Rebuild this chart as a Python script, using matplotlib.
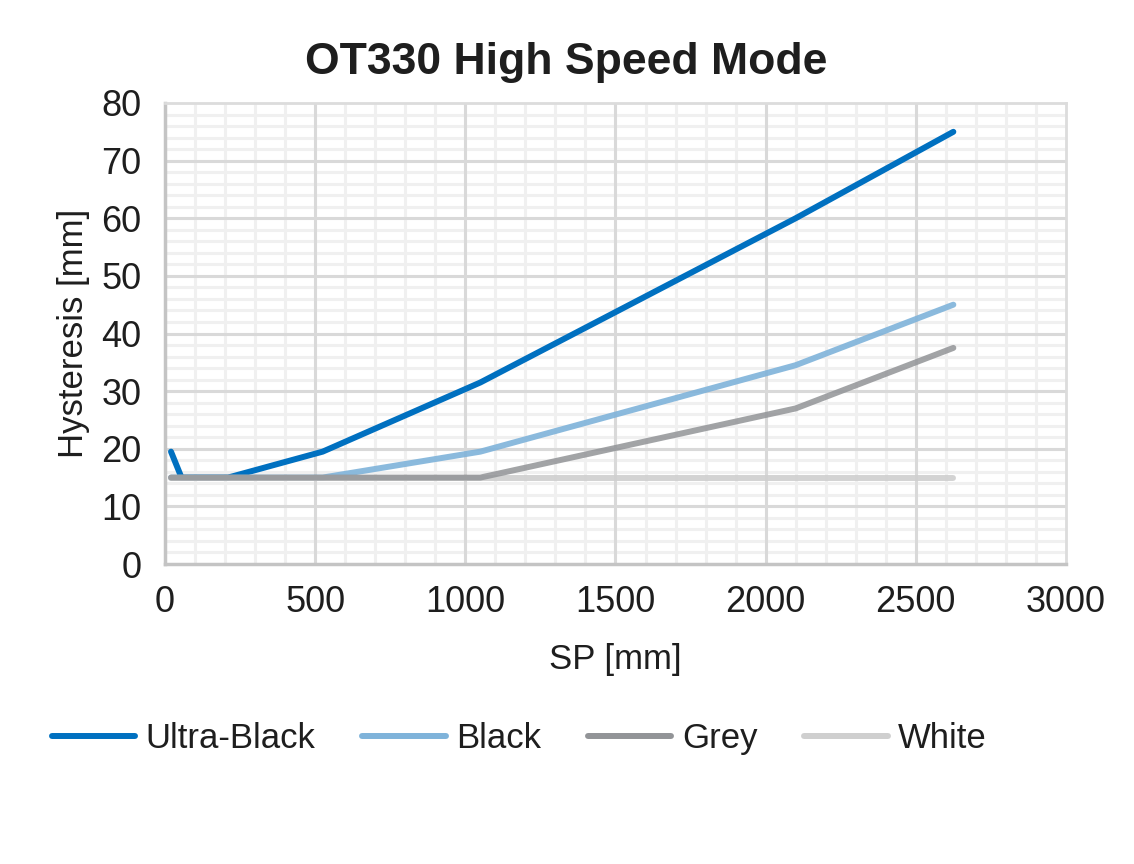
import matplotlib
matplotlib.use("Agg")
import matplotlib.pyplot as plt
from matplotlib.ticker import MultipleLocator

plt.rcParams['font.family'] = ['Liberation Sans', 'DejaVu Sans']

sp = [20, 55, 210, 525, 1050, 2100, 2625]
ultra_black = [19.5, 15, 15, 19.5, 31.5, 60, 75]
black = [15, 15, 15, 15, 19.5, 34.5, 45]
grey = [15, 15, 15, 15, 15, 27, 37.5]
white = [15, 15, 15, 15, 15, 15, 15]
series_names = ["Ultra-Black", "Black", "Grey", "White"]
x_ticks = [0, 500, 1000, 1500, 2000, 2500, 3000]
y_ticks = [0, 10, 20, 30, 40, 50, 60, 70, 80]

fig = plt.figure(figsize=(11.34, 8.64), dpi=100)
ax = fig.add_axes([0.1455, 0.3472, 0.7945, 0.5336])

lw = 4.3
l_ub, = ax.plot(sp, ultra_black, color="#0070c0", lw=lw, solid_capstyle="round", zorder=3, label=series_names[0])
l_b, = ax.plot(sp, black, color="#7fb3da", lw=lw, alpha=0.9, solid_capstyle="round", zorder=4, label=series_names[1])
l_w, = ax.plot(sp, white, color="#cfcfcf", lw=lw, alpha=0.9, solid_capstyle="round", zorder=5, label=series_names[3])
l_g, = ax.plot(sp, grey, color="#929497", lw=lw, alpha=0.85, solid_capstyle="round", zorder=6, label=series_names[2])

ax.set_xlim(0, 3000)
ax.set_ylim(0, 80)
ax.set_xticks(x_ticks)
ax.set_yticks(y_ticks)
ax.xaxis.set_minor_locator(MultipleLocator(100))
ax.yaxis.set_minor_locator(MultipleLocator(2))
ax.grid(which="minor", color="#f0f0f0", lw=2.2)
ax.set_axisbelow(True)
# major grid drawn above the minor grid
for xv in x_ticks[1:-1]:
    ax.axvline(xv, color="#d9d9d9", lw=2.2, zorder=1)
for yv in y_ticks[1:-1]:
    ax.axhline(yv, color="#d9d9d9", lw=2.2, zorder=1)

ax.tick_params(which="both", length=0, labelsize=26, colors="#1e1e1e")
ax.tick_params(axis="y", pad=17)
ax.tick_params(axis="x", pad=15)

for s in ["left", "bottom"]:
    ax.spines[s].set_color("#c4c4c4")
    ax.spines[s].set_linewidth(2.5)
for s in ["top", "right"]:
    ax.spines[s].set_color("#dcdcdc")
    ax.spines[s].set_linewidth(2.0)

ax.set_xlabel("SP [mm]", fontsize=25, color="#1e1e1e", labelpad=17)
ax.set_ylabel("Hysteresis [mm]", fontsize=25, color="#1e1e1e", labelpad=8)
fig.text(0.4995, 0.928, "OT330 High Speed Mode", fontsize=32, fontweight="bold",
         ha="center", va="center", color="#1e1e1e")

leg = fig.legend([l_ub, l_b, l_g, l_w], series_names, loc="center", ncol=4,
                 bbox_to_anchor=(0.458, 0.145), frameon=False, fontsize=25,
                 handlelength=2.4, handletextpad=0.3, columnspacing=1.35)
for t in leg.get_texts():
    t.set_color("#1e1e1e")
for h in leg.legend_handles:
    h.set_alpha(1)

fig.savefig("out.png", dpi=100, facecolor="white")
